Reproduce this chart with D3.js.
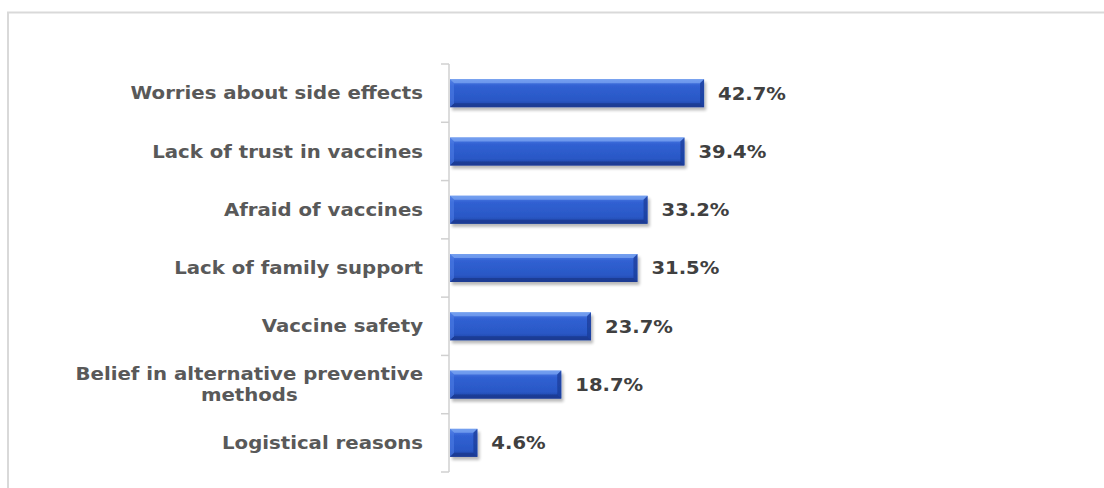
<!DOCTYPE html>
<html><head><meta charset="utf-8">
<script src="https://cdn.jsdelivr.net/npm/d3@7"></script>
<style>body{margin:0;background:#fff}svg{display:block}</style>
</head><body>
<svg id="c" width="1104" height="488"></svg>
<script>
const categories = ["Worries about side effects","Lack of trust in vaccines","Afraid of vaccines","Lack of family support","Vaccine safety","Belief in alternative preventive methods","Logistical reasons"];
const labelLines = [["Worries about side effects"],["Lack of trust in vaccines"],["Afraid of vaccines"],["Lack of family support"],["Vaccine safety"],["Belief in alternative preventive","methods"],["Logistical reasons"]];
const values = [42.7, 39.4, 33.2, 31.5, 23.7, 18.7, 4.6];
const valueLabels = ["42.7%","39.4%","33.2%","31.5%","23.7%","18.7%","4.6%"];

const svg = d3.select("#c");
const x = d3.scaleLinear().domain([0, 50]).range([450, 450 + 5.95*50]);
const y = d3.scaleBand().domain(categories).range([64, 472]).paddingInner(0.52).paddingOuter(0.26);

const defs = svg.append("defs");
const g = defs.append("linearGradient").attr("id","bg").attr("x1",0).attr("y1",0).attr("x2",0).attr("y2",1);
[[0,"#6592ea"],[0.14,"#3f6edb"],[0.25,"#3060d2"],[0.75,"#2a58c6"],[1,"#1d40a2"]].forEach(s=>g.append("stop").attr("offset",s[0]).attr("stop-color",s[1]));
const f = defs.append("filter").attr("id","sh").attr("x","-10%").attr("y","-30%").attr("width","130%").attr("height","180%");
f.append("feGaussianBlur").attr("in","SourceAlpha").attr("stdDeviation",1.6).attr("result","b");
f.append("feOffset").attr("in","b").attr("dx",2).attr("dy",2.5).attr("result","o");
f.append("feComponentTransfer").attr("in","o").attr("result","t").append("feFuncA").attr("type","linear").attr("slope",0.28);
const m = f.append("feMerge"); m.append("feMergeNode").attr("in","t"); m.append("feMergeNode").attr("in","SourceGraphic");

// border
svg.append("path").attr("d","M8,492V12.5H1110").attr("fill","none").attr("stroke","#d9d9d9").attr("stroke-width",2);

// axis
const ax = svg.append("g").attr("stroke","#d0d0d0").attr("stroke-width",1.5);
ax.append("line").attr("x1",449).attr("x2",449).attr("y1",y.range()[0]).attr("y2",y.range()[1]);
d3.range(categories.length+1).forEach(i=>{
  const ty = y.range()[0] + i*y.step();
  ax.append("line").attr("x1",441).attr("x2",449).attr("y1",ty).attr("y2",ty);
});

// bars
const bw = 4;
categories.forEach((c,i)=>{
  const x0 = x(0), x1 = x(values[i]), y0 = y(c), h = y.bandwidth(), y1 = y0 + h;
  const bar = svg.append("g").attr("filter","url(#sh)");
  bar.append("rect").attr("x",x0).attr("y",y0).attr("width",x1-x0).attr("height",h).attr("fill","url(#bg)");
  const b = Math.min(bw, (x1-x0)/2);
  bar.append("path").attr("d",`M${x0},${y0}H${x1}L${x1-b},${y0+b}H${x0+b}Z`).attr("fill","#7aa4f2").attr("opacity",0.75);
  bar.append("path").attr("d",`M${x1},${y0}V${y1}L${x1-b},${y1-b}V${y0+b}Z`).attr("fill","#1d3f9c").attr("opacity",0.8);
  bar.append("path").attr("d",`M${x0},${y1}H${x1}L${x1-b},${y1-b}H${x0+b}Z`).attr("fill","#1a3a90").attr("opacity",0.85);
  bar.append("path").attr("d",`M${x0},${y0}V${y1}L${x0+b},${y1-b}V${y0+b}Z`).attr("fill","#4d7ce4").attr("opacity",0.6);
});

// value labels
const sxV = 1.1;
categories.forEach((c,i)=>{
  svg.append("g").attr("transform",`translate(${x(values[i])+14},${y(c)+y.bandwidth()/2}) scale(${sxV},1)`)
    .append("text").attr("dy","0.36em").attr("font-family","DejaVu Sans").attr("font-weight","bold")
    .attr("font-size",17.8).attr("fill","#404040").text(valueLabels[i]);
});

// category labels
const sxC = 1.16, fsC = 17, rightX = 423;
categories.forEach((c,i)=>{
  const lines = labelLines[i];
  const cy = y(c) + y.bandwidth()/2;
  const grp = svg.append("g").attr("transform",`translate(${rightX},${cy}) scale(${sxC},1)`);
  if (lines.length === 1) {
    grp.append("text").attr("text-anchor","end").attr("dy","0.36em").attr("font-family","DejaVu Sans").attr("font-weight","bold")
      .attr("font-size",fsC).attr("fill","#595959").text(lines[0]);
  } else {
    const tmp = grp.append("text").attr("font-family","DejaVu Sans").attr("font-weight","bold").attr("font-size",fsC).text(lines[0]);
    const w = tmp.node().getComputedTextLength(); tmp.remove();
    const lh = 21;
    lines.forEach((ln,k)=>{
      grp.append("text").attr("text-anchor","middle").attr("x",-w/2).attr("y",(k-(lines.length-1)/2)*lh).attr("dy","0.36em")
        .attr("font-family","DejaVu Sans").attr("font-weight","bold").attr("font-size",fsC).attr("fill","#595959").text(ln);
    });
  }
});
</script></body></html>
